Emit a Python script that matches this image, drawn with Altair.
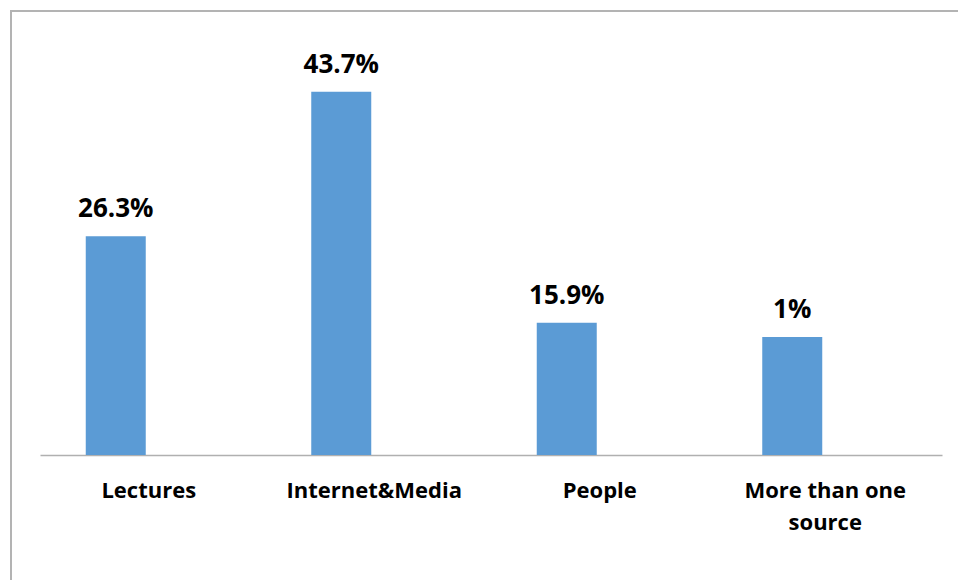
import altair as alt
import pandas as pd

categories = ["Lectures", "Internet&Media", "People", "More than one source"]
# bar heights as drawn in the picture (the last bar is drawn taller than its label says)
values = [26.3, 43.7, 15.9, 14.2]
labels = ["26.3%", "43.7%", "15.9%", "1%"]

df = pd.DataFrame({"cat": categories, "val": values, "lab": labels})

FONT = "Open Sans"

x = alt.X(
    "cat:N",
    sort=categories,
    scale=alt.Scale(paddingInner=0, paddingOuter=0),
    axis=alt.Axis(
        title=None,
        ticks=False,
        domain=True,
        domainColor="#b0b0b0",
        domainWidth=1.5,
        labelAngle=0,
        labelFont=FONT,
        labelFontSize=22,
        labelFontWeight="bold",
        labelColor="#000000",
        labelPadding=42,
        labelOffset=-4,
        labelBaseline="alphabetic",
        labelLineHeight=32,
        labelLimit=300,
        labelExpr="datum.label == 'More than one source' ? ['More than one', 'source'] : datum.label",
    ),
)
y = alt.Y("val:Q", scale=alt.Scale(domain=[0, 53.4], nice=False), axis=None)

bars = alt.Chart(df).mark_bar(width=60, color="#5b9bd5", xOffset=-37).encode(x=x, y=y)
text = alt.Chart(df).mark_text(
    font=FONT, fontSize=26, fontWeight="bold", color="#000000",
    baseline="alphabetic", dy=-19, dx=-37,
).encode(x=x, y=y, text="lab:N")

frame_df = pd.DataFrame({"a": [0]})
left_line = alt.Chart(frame_df).mark_rule(color="#b3b3b3", strokeWidth=2).encode(
    x=alt.value(-29), y=alt.value(-1), y2=alt.value(580)
)
top_line = alt.Chart(frame_df).mark_rule(color="#b3b3b3", strokeWidth=2).encode(
    x=alt.value(-30), x2=alt.value(930), y=alt.value(0)
)

chart = alt.layer(bars, text, left_line, top_line).properties(
    width=902,
    height=444,
    autosize=alt.AutoSizeParams(type="none"),
    padding={"left": 40, "top": 11, "right": 16, "bottom": 125},
    background="#ffffff",
).configure_view(stroke=None)

chart.save("out.html", embed_options={"renderer": "svg", "actions": False})
